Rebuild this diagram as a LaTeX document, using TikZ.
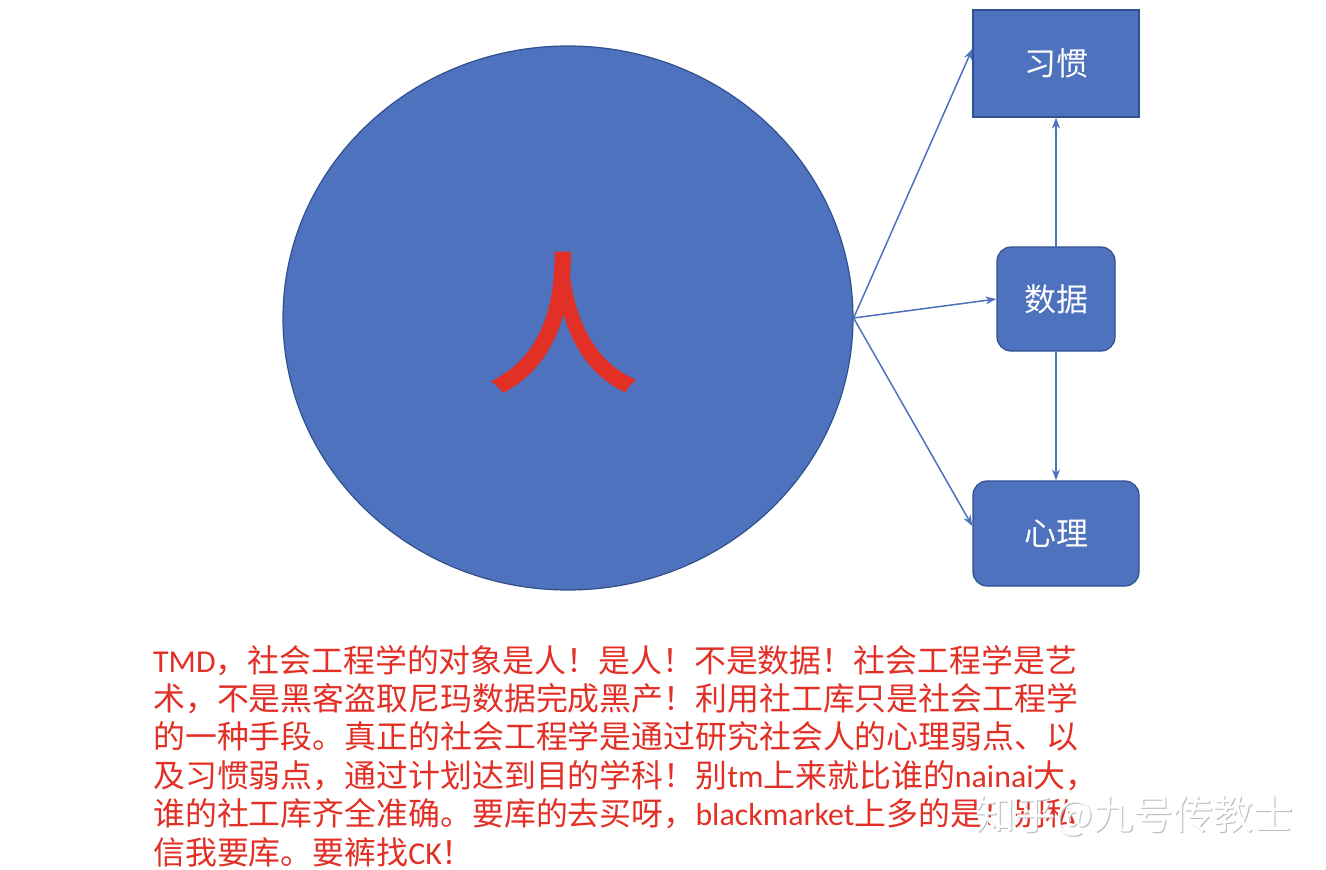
\documentclass[tikz,border=0pt]{standalone}
\usepackage{fontspec}
\setmainfont{Noto Sans CJK SC}
\newfontfamily\latin{Carlito}
\newfontfamily\renfont[FakeBold=2.5]{Noto Sans CJK SC}
\usetikzlibrary{arrows.meta,shapes.geometric,positioning}

\definecolor{blu}{RGB}{79,114,190}
\definecolor{bord}{RGB}{47,82,143}
\definecolor{redtext}{RGB}{226,48,38}

\tikzset{
  box/.style={draw=bord,fill=blu,line width=1.2pt,text=white,
              font=\fontsize{32}{32}\selectfont,inner sep=0pt},
  link/.style={draw=blu,line width=1.5pt,-{Stealth[length=11pt,width=8pt]}},
  para/.style={text=redtext,font=\fontsize{31.9}{38.4}\selectfont,inner sep=0pt,anchor=base west},
  wmark/.style={font=\fontsize{40}{40}\selectfont,anchor=base west,inner sep=0pt}
}

\begin{document}
\begin{tikzpicture}[x=1pt,y=-1pt]

\useasboundingbox[fill=white] (0,0) rectangle (1326,870);

\node[ellipse,draw=bord,fill=blu,line width=1.2pt,minimum width=570pt,minimum height=544pt] (ren) at (568,318) {};
\node[text=redtext,font=\renfont\fontsize{150}{150}\selectfont,inner sep=0pt] (renzi) at (563,322) {人};

\node[box,minimum width=166pt,minimum height=107pt] (xg) at (1056,63.5) {习惯};
\node[box,rounded corners=14pt,minimum width=118pt,minimum height=104pt] (sj) at (1056,299) {数据};
\node[box,rounded corners=14pt,minimum width=166pt,minimum height=105pt] (xl) at (1056,533.5) {心理};

\draw[link] (ren.east) -- (xg.170);
\draw[link] (ren.east) -- (sj.west);
\draw[link] (ren.east) -- (xl.175);
\draw[link] (sj.north) -- (xg.south);
\draw[link] (sj.south) -- (xl.north);

% text below
\foreach \line [count=\i from 0] in {
  {{\latin TMD}，社会工程学的对象是人！是人！不是数据！社会工程学是艺},
  {术，不是黑客盗取尼玛数据完成黑产！利用社工库只是社会工程学},
  {的一种手段。真正的社会工程学是通过研究社会人的心理弱点、以},
  {及习惯弱点，通过计划达到目的学科！别{\latin tm}上来就比谁的{\latin nainai}大，},
  {谁的社工库齐全准确。要库的去买呀，{\latin blackmarket}上多的是！别私},
  {信我要库。要裤找{\latin CK}！}}
  \node[para] (line\i) at (153,{672+38.4*\i}) {\line};

% watermark
\node[wmark,text=gray!55] (markshadow) at (976.5,830.5) {知乎@九号传教士};
\node[wmark,text=white] (markfront) at (975,829) {知乎@九号传教士};

\end{tikzpicture}
\end{document}
